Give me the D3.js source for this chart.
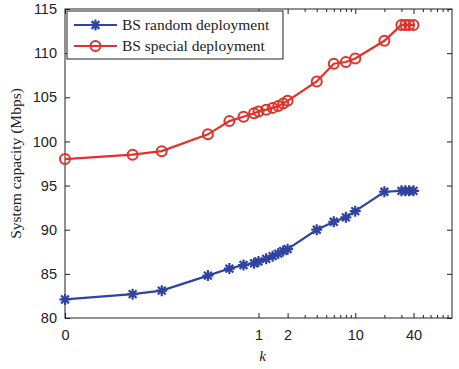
<!DOCTYPE html>
<html>
<head>
<meta charset="utf-8">
<script src="https://cdn.jsdelivr.net/npm/d3@7"></script>
<style>
  body { margin: 0; background: #fff; }
  svg { font-family: "Liberation Serif", "Times New Roman", serif; }
</style>
</head>
<body>
<div id="wrapper"></div>
<script>
// k values (log axis, leftmost point is labelled "0")
const kValues = [0.01, 0.05, 0.1, 0.3, 0.5, 0.7, 0.9, 1, 1.2, 1.4, 1.6, 1.8, 2, 4, 6, 8, 10, 20, 30, 33, 36, 40];
const randomCap = [82.1, 82.7, 83.1, 84.8, 85.6, 86.0, 86.2, 86.4, 86.7, 87.0, 87.3, 87.6, 87.8, 90.0, 90.9, 91.4, 92.1, 94.3, 94.4, 94.4, 94.4, 94.4];
const specialCap = [98.0, 98.5, 98.9, 100.8, 102.3, 102.8, 103.2, 103.4, 103.6, 103.8, 104.0, 104.3, 104.6, 106.8, 108.8, 109.0, 109.4, 111.4, 113.2, 113.2, 113.2, 113.2];
const seriesNames = ["BS random deployment", "BS special deployment"];
const xTickVals = [0.01, 1, 2, 10, 40];
const xTickText = ["0", "1", "2", "10", "40"];
const xMinorVals = [3, 4, 5, 6, 7, 8, 9, 20, 30, 50, 60, 70, 80, 90];
const yTickVals = [80, 85, 90, 95, 100, 105, 110, 115];

const dim = {
    width: 459,
    height: 369,
    margin: { top: 9, left: 65, bottom: 51, right: 7 }
};
dim.boundedWidth = dim.width - dim.margin.left - dim.margin.right;
dim.boundedHeight = dim.height - dim.margin.top - dim.margin.bottom;

const blue = "#2f43a0";
const red = "#e0322a";

const svg = d3.select("#wrapper").append("svg")
    .attr("width", dim.width)
    .attr("height", dim.height);

const bounded = svg.append("g")
    .attr("transform", `translate(${dim.margin.left},${dim.margin.top})`);

const xScaler = d3.scaleLog()
    .domain([0.01, 100])
    .range([0, dim.boundedWidth]);

const yScaler = d3.scaleLinear()
    .domain([80, 115])
    .range([dim.boundedHeight, 0]);

// frame
bounded.append("rect")
    .attr("width", dim.boundedWidth)
    .attr("height", dim.boundedHeight)
    .attr("fill", "none")
    .attr("stroke", "#222")
    .attr("stroke-width", 1);

function styleAxis(g) {
    g.select(".domain").remove();
    g.selectAll(".tick line").attr("stroke", "#222");
    g.selectAll(".tick text")
        .attr("fill", "#222")
        .style("font-size", "14.5px");
}

// bottom axis, inward ticks
const xAxis = d3.axisBottom(xScaler)
    .tickValues(xTickVals)
    .tickFormat((d, i) => xTickText[i])
    .tickSizeInner(-5)
    .tickPadding(12);
bounded.append("g")
    .attr("transform", `translate(0,${dim.boundedHeight})`)
    .call(xAxis)
    .call(styleAxis);

const xMinor = d3.axisBottom(xScaler)
    .tickValues(xMinorVals)
    .tickFormat("")
    .tickSizeInner(-3);
bounded.append("g")
    .attr("transform", `translate(0,${dim.boundedHeight})`)
    .call(xMinor)
    .call(styleAxis);

// top mirrored ticks
bounded.append("g")
    .call(d3.axisTop(xScaler).tickValues(xTickVals).tickFormat("").tickSizeInner(-5))
    .call(styleAxis);
bounded.append("g")
    .call(d3.axisTop(xScaler).tickValues(xMinorVals).tickFormat("").tickSizeInner(-3))
    .call(styleAxis);

// left axis
const yAxis = d3.axisLeft(yScaler)
    .tickValues(yTickVals)
    .tickSizeInner(-5)
    .tickPadding(8);
bounded.append("g")
    .call(yAxis)
    .call(styleAxis);

// right mirrored ticks
bounded.append("g")
    .attr("transform", `translate(${dim.boundedWidth},0)`)
    .call(d3.axisRight(yScaler).tickValues(yTickVals).tickFormat("").tickSizeInner(-5))
    .call(styleAxis);

// axis labels
svg.append("text")
    .attr("x", dim.margin.left + xScaler(1.1))
    .attr("y", 361)
    .attr("text-anchor", "middle")
    .style("font-size", "15px")
    .style("font-style", "italic")
    .attr("fill", "#222")
    .text("k");

svg.append("text")
    .attr("transform", `translate(21,${dim.margin.top + yScaler(97.5)}) rotate(-90)`)
    .attr("text-anchor", "middle")
    .style("font-size", "15.5px")
    .attr("fill", "#222")
    .text("System capacity (Mbps)");

// lines
const randomData = kValues.map((k, i) => ({ k: k, v: randomCap[i] }));
const specialData = kValues.map((k, i) => ({ k: k, v: specialCap[i] }));

const lineGenerator = d3.line()
    .x(d => xScaler(d.k))
    .y(d => yScaler(d.v));

bounded.append("path")
    .attr("d", lineGenerator(randomData))
    .attr("fill", "none")
    .attr("stroke", blue)
    .attr("stroke-width", 2.2);

bounded.append("path")
    .attr("d", lineGenerator(specialData))
    .attr("fill", "none")
    .attr("stroke", red)
    .attr("stroke-width", 2.2);

// asterisk marker path
function asterisk(r) {
    let p = "";
    for (let a = 0; a < 4; a++) {
        const ang = a * Math.PI / 4;
        const dx = r * Math.cos(ang), dy = r * Math.sin(ang);
        p += `M${-dx},${-dy}L${dx},${dy}`;
    }
    return p;
}

bounded.append("g").selectAll("path")
    .data(randomData)
    .join("path")
    .attr("transform", d => `translate(${xScaler(d.k)},${yScaler(d.v)})`)
    .attr("d", asterisk(5.5))
    .attr("stroke", blue)
    .attr("stroke-width", 2.2)
    .attr("fill", "none");

bounded.append("g").selectAll("circle")
    .data(specialData)
    .join("circle")
    .attr("cx", d => xScaler(d.k))
    .attr("cy", d => yScaler(d.v))
    .attr("r", 5)
    .attr("stroke", red)
    .attr("stroke-width", 2)
    .attr("fill", "none");

// legend
const legend = svg.append("g").attr("transform", "translate(67,11)");
legend.append("rect")
    .attr("width", 216)
    .attr("height", 48)
    .attr("fill", "#fff")
    .attr("stroke", "#222")
    .attr("stroke-width", 1);

const items = [
    { name: seriesNames[0], color: blue, marker: "star" },
    { name: seriesNames[1], color: red, marker: "circle" }
];
items.forEach((it, i) => {
    const y = 14 + i * 21;
    legend.append("line")
        .attr("x1", 7).attr("x2", 50)
        .attr("y1", y).attr("y2", y)
        .attr("stroke", it.color)
        .attr("stroke-width", 2.2);
    if (it.marker === "star") {
        legend.append("path")
            .attr("transform", `translate(28.5,${y})`)
            .attr("d", asterisk(5.5))
            .attr("stroke", it.color)
            .attr("stroke-width", 2.2);
    } else {
        legend.append("circle")
            .attr("cx", 28.5).attr("cy", y).attr("r", 5)
            .attr("fill", "none")
            .attr("stroke", it.color)
            .attr("stroke-width", 2);
    }
    legend.append("text")
        .attr("x", 55)
        .attr("y", y + 5)
        .style("font-size", "15.5px")
        .attr("fill", "#222")
        .text(it.name);
});
</script>
</body>
</html>
